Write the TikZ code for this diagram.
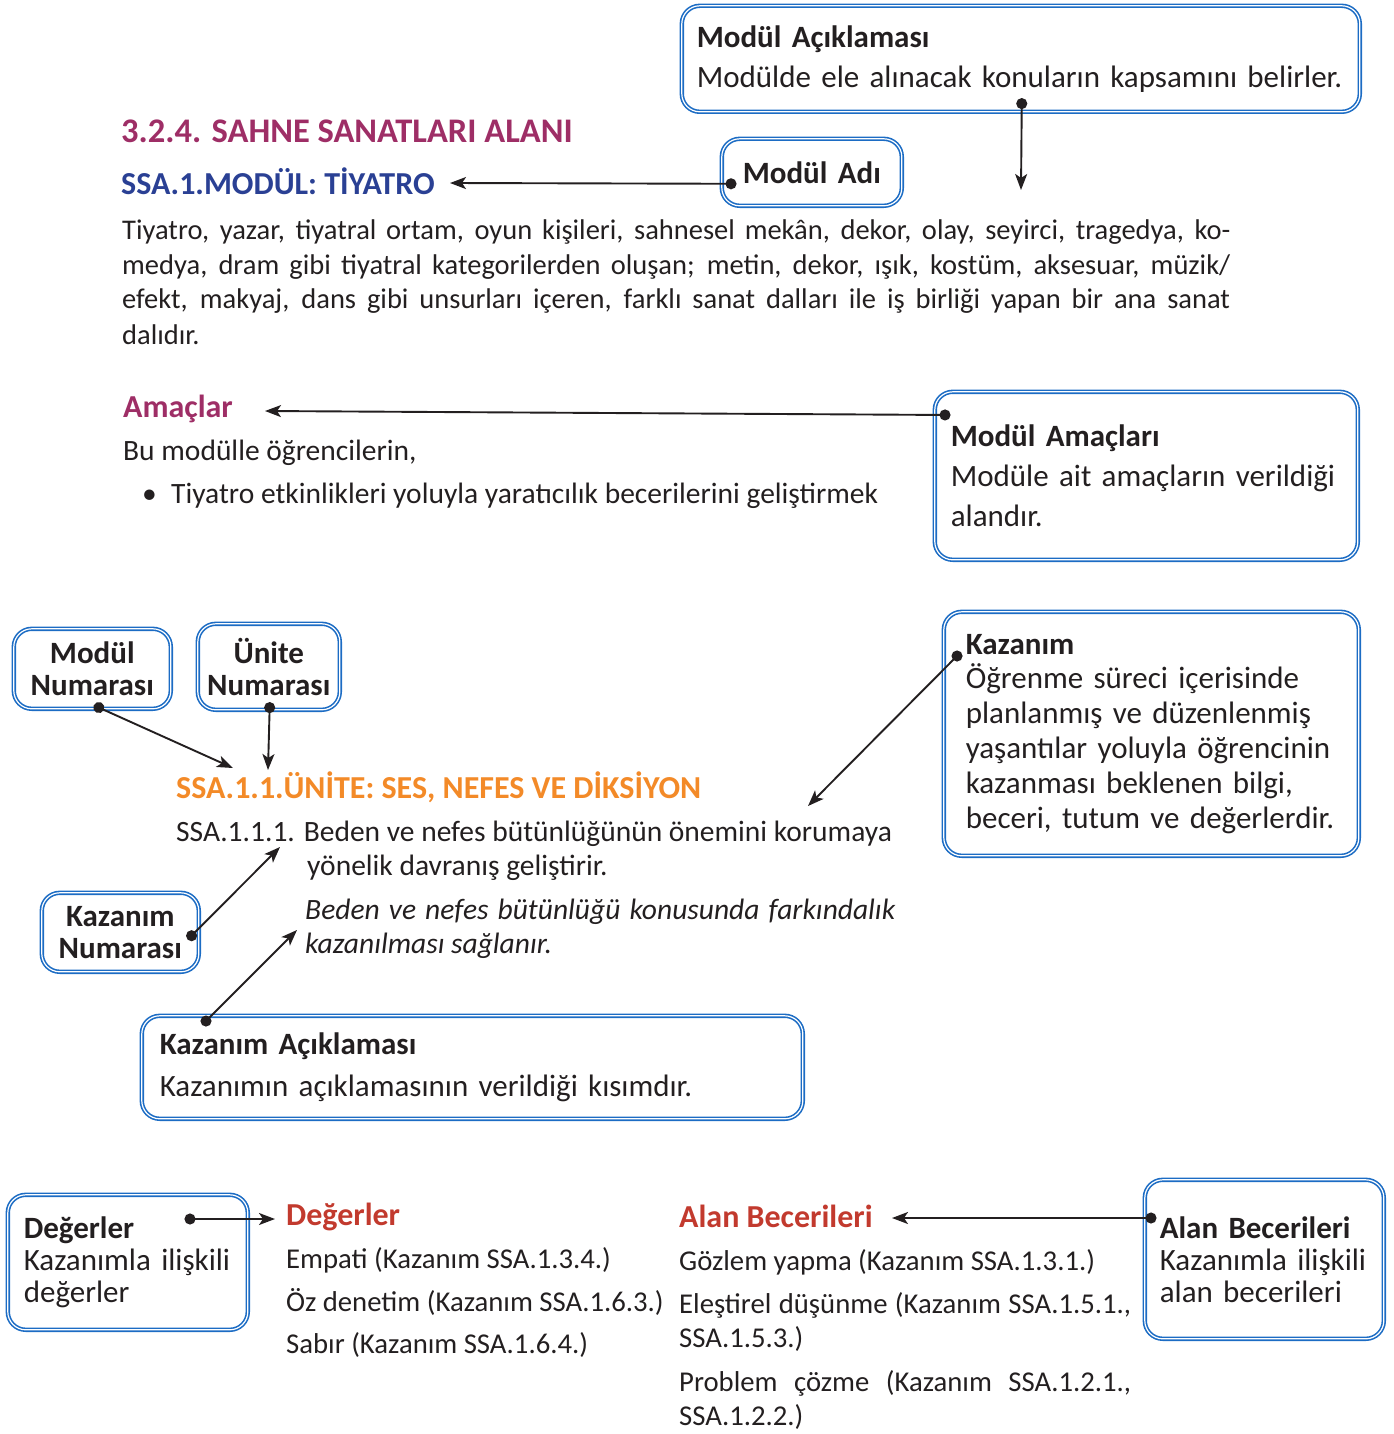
\documentclass[tikz,border=0pt]{standalone}
\usepackage{fontspec}
\setmainfont{Carlito}
\usepackage{xcolor}
\usetikzlibrary{positioning,arrows.meta}

\definecolor{boxblue}{RGB}{28,108,196}
\definecolor{titlepurple}{RGB}{158,46,102}
\definecolor{modulblue}{RGB}{42,64,148}
\definecolor{uniteorange}{RGB}{243,138,40}
\definecolor{headred}{RGB}{194,58,46}
\definecolor{inkblack}{RGB}{35,31,32}

\newcommand{\fs}[2]{\fontsize{#1}{#2}\selectfont}

\begin{document}
\begin{tikzpicture}[x=1pt,y=-1pt,
    infobox/.style = {draw=boxblue, line width=1.6pt, double=white, double distance=1.2pt,
                      rounded corners=18pt, anchor=north west, inner ysep=0pt, text=inkblack},
    pointer/.style = {{Circle[length=11pt]}-{Stealth[length=16pt,width=12pt,inset=4pt]},
                      line width=1.9pt, draw=inkblack},
    plain/.style   = {anchor=base west, inner sep=0pt, text=inkblack, font=\fs{29.5}{34}},
    small/.style   = {plain, font=\fs{28.7}{34}},
    heading/.style = {anchor=base west, inner sep=0pt, font=\bfseries\fs{32}{36}}]
  \useasboundingbox (0,0) rectangle (1393,1434);

  % headings and texts
  \node[heading, text=titlepurple, font=\bfseries\fs{34.5}{40}] (alan324) at (121,143) {3.2.4. SAHNE SANATLARI ALANI};
  \node[heading, text=modulblue] (modul) at (121,194) {SSA.1.MODÜL: TİYATRO};
  \node[plain, font=\fs{28.5}{35}, text width=1108pt, align=justify] (tanim) at (122,239)
    {Tiyatro, yazar, tiyatral ortam, oyun kişileri, sahnesel mekân, dekor, olay, seyirci, tragedya, ko-\linebreak
     medya, dram gibi tiyatral kategorilerden oluşan; metin, dekor, ışık, kostüm, aksesuar, müzik/\linebreak
     efekt, makyaj, dans gibi unsurları içeren, farklı sanat dalları ile iş birliği yapan bir ana sanat\linebreak
     dalıdır.};

  \node[heading, text=titlepurple] (amaclar) at (123,417) {Amaçlar};
  \node[plain] (bumodul) at (123,460) {Bu modülle öğrencilerin,};
  \node[plain] (madde) at (142,503) {•};
  \node[plain] (amac1) at (171,503) {Tiyatro etkinlikleri yoluyla yaratıcılık becerilerini geliştirmek};

  \node[heading, text=uniteorange] (unite) at (176,798) {SSA.1.1.ÜNİTE: SES, NEFES VE DİKSİYON};
  \node[plain] (kaz1) at (176,841) {SSA.1.1.1. Beden ve nefes bütünlüğünün önemini korumaya};
  \node[plain] (kaz1b) at (307,875) {yönelik davranış geliştirir.};
  \node[plain, font=\itshape\fs{29.5}{34}, text width=590pt, align=justify] (kaz1acik) at (305,919)
    {Beden ve nefes bütünlüğü konusunda farkındalık\linebreak kazanılması sağlanır.};

  \node[heading, text=headred] (degbaslik) at (286,1225) {Değerler};
  \node[small] (empati) at (286,1268) {Empati (Kazanım SSA.1.3.4.)};
  \node[small] (ozdenetim) at (286,1311) {Öz denetim (Kazanım SSA.1.6.3.)};
  \node[small] (sabir) at (286,1353) {Sabır (Kazanım SSA.1.6.4.)};

  \node[heading, text=headred] (alanbaslik) at (679,1227) {Alan Becerileri};
  \node[small] (gozlem) at (679,1270) {Gözlem yapma (Kazanım SSA.1.3.1.)};
  \node[small, text width=452pt, align=justify] (elestirel) at (679,1313)
    {Eleştirel düşünme (Kazanım SSA.1.5.1.,\linebreak SSA.1.5.3.)};
  \node[small, text width=452pt, align=justify] (problem) at (679,1391)
    {Problem çözme (Kazanım SSA.1.2.1.,\linebreak SSA.1.2.2.)};

  % explanation boxes
  \node[infobox, minimum height=106pt, text width=648pt, inner xsep=15pt, align=left, font=\fs{31}{40}] (acik) at (681,5)
    {\textbf{Modül Açıklaması}\\Modülde ele alınacak konuların kapsamını belirler.};
  \node[infobox, minimum height=67pt, text width=144pt, inner xsep=18pt, align=center, font=\bfseries\fs{31}{36}] (adi) at (721,138)
    {Modül Adı};
  \node[infobox, minimum height=168pt, text width=391pt, inner xsep=16pt, align=left, font=\fs{31}{40}] (amac) at (934,391)
    {\textbf{Modül Amaçları}\\Modüle ait amaçların verildiği\\alandır.};
  \node[infobox, minimum height=80pt, text width=145pt, inner xsep=6pt, align=center, font=\bfseries\fs{31}{32}] (mnum) at (13,628)
    {Modül\\Numarası};
  \node[infobox, minimum height=86pt, text width=132pt, inner xsep=5pt, align=center, font=\bfseries\fs{31}{32}] (unum) at (197,623)
    {Ünite\\Numarası};
  \node[infobox, minimum height=244pt, text width=371pt, inner xsep=22pt, align=left, font=\fs{31}{34.8}] (kaz) at (943,611)
    {\textbf{Kazanım}\\Öğrenme süreci içerisinde\\planlanmış ve düzenlenmiş\\yaşantılar yoluyla öğrencinin\\kazanması beklenen bilgi,\\beceri, tutum ve değerlerdir.};
  \node[infobox, minimum height=79pt, text width=145pt, inner xsep=6pt, align=center, font=\bfseries\fs{31}{32}] (knum) at (41,892)
    {Kazanım\\Numarası};
  \node[infobox, minimum height=103pt, text width=625pt, inner xsep=18pt, align=left, font=\fs{31}{42}] (kacik) at (141,1015)
    {\textbf{Kazanım Açıklaması}\\Kazanımın açıklamasının verildiği kısımdır.};
  \node[infobox, minimum height=135pt, text width=208pt, inner xsep=16pt, align=left, font=\fs{31}{32}] (deg) at (7,1194)
    {\textbf{Değerler}\\Kazanımla ilişkili\\değerler};
  \node[infobox, minimum height=159pt, text width=209pt, inner xsep=15pt, align=left, font=\fs{31}{32}] (alan) at (1144,1179)
    {\textbf{Alan Becerileri}\\Kazanımla ilişkili\\alan becerileri};

  % arrow ends
  \coordinate (acikend) at (1021,190);
  \coordinate (adiend) at (450,183);
  \coordinate (amacend) at (265,411);
  \coordinate (mnumend) at (233,768);
  \coordinate (unumend) at (268,770);
  \coordinate (kazend) at (808,806);
  \coordinate (knumend) at (280,847);
  \coordinate (kacikend) at (297,930);
  \coordinate (degend) at (275,1219);
  \coordinate (alanend) at (892,1218);

  \draw[pointer] ([xshift=1pt,yshift=14.5pt]acik.south) to (acikend);
  \draw[pointer] ([xshift=15.5pt,yshift=-11.5pt]adi.west) to (adiend);
  \draw[pointer] ([xshift=16.5pt,yshift=-24pt]amac.north west) to (amacend);
  \draw[pointer] ([xshift=1.5pt,yshift=4.3pt]mnum.south) to (mnumend);
  \draw[pointer] ([xshift=1pt,yshift=8.5pt]unum.south) to (unumend);
  \draw[pointer] ([xshift=17.9pt,yshift=-41.1pt]kaz.north west) to (kazend);
  \draw[pointer] ([xshift=-11.9pt,yshift=-7.3pt]knum.east) to (knumend);
  \draw[pointer] ([xshift=61.1pt,yshift=-9.9pt]kacik.north west) to (kacikend);
  \draw[pointer] ([xshift=177.5pt,yshift=-25pt]deg.north west) to (degend);
  \draw[pointer] ([xshift=12.5pt,yshift=-39pt]alan.north west) to (alanend);
\end{tikzpicture}
\end{document}
